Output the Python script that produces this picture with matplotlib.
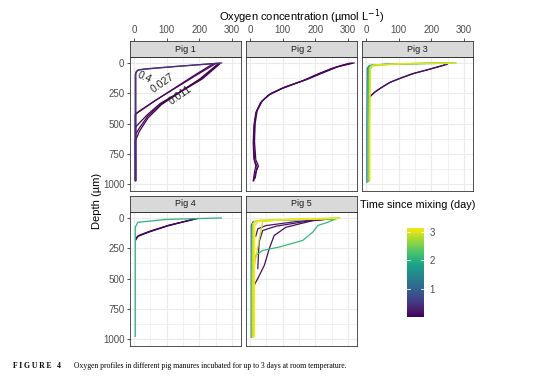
import matplotlib
matplotlib.use("Agg")
import matplotlib.pyplot as plt
import numpy as np
from matplotlib.colors import Normalize

plt.rcParams["font.family"] = ["Liberation Sans", "DejaVu Sans"]

# time since mixing (day) for each profile, and the profile points (conc, depth)
PIG1_TIME = [0.4, 0.4, 0.027, 0.027, 0.011, 0.011, 0.011]
PIG1_CONC = [[268, 150, 60, 14, 6, 4, 4, 5],
             [262, 120, 30, 10, 6, 6, 6],
             [240, 180, 120, 60, 15, 4, 4],
             [250, 185, 125, 65, 20, 5, 5],
             [262, 210, 145, 84, 43, 17, 4, 4],
             [255, 200, 140, 80, 40, 15, 5, 5],
             [258, 205, 142, 82, 42, 16, 5, 5]]
PIG1_DEPTH = [[0, 25, 45, 57, 75, 100, 500, 975],
              [2, 30, 50, 62, 90, 400, 970],
              [10, 110, 215, 320, 400, 428, 970],
              [5, 110, 210, 310, 395, 420, 965],
              [8, 130, 235, 344, 454, 563, 645, 970],
              [12, 135, 240, 335, 430, 500, 530, 965],
              [10, 130, 238, 340, 440, 540, 590, 968]]

PIG2_TIME = [0.05, 0.06, 0.04]
PIG2_CONC = [[312, 290, 262, 210, 171, 100, 60, 35, 20, 14, 12, 14, 22, 18, 12],
             [318, 300, 270, 220, 180, 110, 65, 38, 22, 16, 14, 18, 26, 20, 16],
             [305, 280, 250, 200, 160, 95, 55, 32, 18, 12, 10, 12, 18, 14, 10]]
PIG2_DEPTH = [[0, 15, 36, 90, 139, 207, 260, 320, 400, 500, 650, 800, 860, 900, 970],
              [0, 12, 30, 85, 130, 195, 250, 312, 395, 500, 650, 800, 850, 890, 950],
              [2, 20, 45, 100, 148, 215, 268, 330, 410, 520, 660, 790, 850, 900, 975]]

PIG3_TIME = [0.1, 0.12, 1.3, 2.0, 2.5, 2.8, 3.0]
PIG3_CONC = [[240, 187, 140, 105, 70, 44, 25, 13, 8],
             [248, 195, 150, 112, 75, 50, 28, 16, 9],
             [255, 60, 10, 4, 3, 3],
             [265, 80, 12, 8, 7, 7],
             [275, 100, 18, 10, 9, 9],
             [260, 90, 20, 12, 10, 10],
             [272, 120, 25, 14, 12, 12]]
PIG3_DEPTH = [[16, 57, 90, 126, 165, 208, 245, 276, 295],
              [12, 52, 84, 120, 158, 200, 238, 270, 288],
              [2, 10, 22, 45, 500, 985],
              [0, 8, 20, 40, 500, 980],
              [0, 6, 18, 40, 500, 975],
              [3, 10, 25, 55, 500, 965],
              [0, 5, 16, 38, 500, 970]]

PIG4_TIME = [0.05, 0.06, 0.04, 2.0]
PIG4_CONC = [[186, 104, 43, 12, 7],
             [195, 110, 48, 15, 8],
             [180, 100, 40, 10, 6],
             [267, 100, 12, 4, 4]]
PIG4_DEPTH = [[8, 63, 117, 150, 172],
              [5, 58, 110, 145, 168],
              [12, 68, 122, 155, 180],
              [0, 12, 36, 77, 978]]

PIG5_TIME = [1.2, 2.1, 0.1, 0.15, 0.2, 2.5, 2.8, 2.9, 3.0, 3.1]
PIG5_CONC = [[250, 60, 10, 4, 4],
             [268, 237, 207, 192, 161, 90, 39, 18, 10, 8, 8],
             [260, 192, 110, 74, 59, 44, 24, 13],
             [255, 180, 80, 39, 28, 24],
             [250, 141, 49, 24, 18],
             [260, 90, 15, 8, 6, 6],
             [270, 120, 20, 10, 8, 8],
             [270, 150, 40, 30, 20, 10, 10],
             [275, 150, 30, 12, 10, 10],
             [265, 100, 25, 15, 14, 14]]
PIG5_DEPTH = [[8, 20, 30, 60, 985],
              [2, 36, 63, 117, 186, 240, 268, 309, 400, 600, 980],
              [5, 22, 77, 145, 254, 391, 500, 555],
              [5, 25, 68, 104, 200, 418],
              [5, 30, 63, 90, 150],
              [6, 18, 30, 50, 500, 985],
              [3, 12, 25, 45, 500, 980],
              [2, 10, 25, 150, 300, 450, 980],
              [0, 8, 18, 35, 500, 985],
              [5, 15, 30, 60, 500, 975]]

PIGS = ["Pig 1", "Pig 2", "Pig 3", "Pig 4", "Pig 5"]
X_TICKS = [0, 100, 200, 300]
Y_TICKS = [0, 250, 500, 750, 1000]
CBAR_TICKS = [1, 2, 3]
PIG1_LABELS = ["0.4", "0.027", "0.011"]
PIG1_LABEL_POS = [(33, 115), (86, 170), (142, 265)]
PIG1_LABEL_ROT = [-25, 35, 35]

W, H = 554, 380
fig = plt.figure(figsize=(W / 100, H / 100), dpi=100)
norm = Normalize(0, 3.14)
cmap = matplotlib.colormaps["viridis"]


def px(x, y, w, h):
    return [x / W, 1 - (y + h) / H, w / W, h / H]


lefts = [130, 246, 362, 130, 246]
tops = [57, 57, 57, 212, 212]
pw, ph, sh = 111, 134, 16
data = [(PIG1_TIME, PIG1_CONC, PIG1_DEPTH), (PIG2_TIME, PIG2_CONC, PIG2_DEPTH),
        (PIG3_TIME, PIG3_CONC, PIG3_DEPTH), (PIG4_TIME, PIG4_CONC, PIG4_DEPTH),
        (PIG5_TIME, PIG5_CONC, PIG5_DEPTH)]
xlim = (-12, 327)
ylim = (1057, -49)
tick_col = "#4d4d4d"
for i, (name, (times, concs, depths)) in enumerate(zip(PIGS, data)):
    ax = fig.add_axes(px(lefts[i], tops[i], pw, ph))
    ax.set_xlim(*xlim); ax.set_ylim(*ylim)
    ax.set_xticks(X_TICKS); ax.set_xticks([50, 150, 250], minor=True)
    ax.set_yticks(Y_TICKS); ax.set_yticks([125, 375, 625, 875], minor=True)
    ax.grid(which="major", color="#ebebeb", lw=0.8)
    ax.grid(which="minor", color="#ebebeb", lw=0.5)
    ax.set_axisbelow(True)
    ax.tick_params(which="both", bottom=False, labelbottom=False, top=False)
    ax.tick_params(which="minor", left=False)
    if i in (0, 3):
        ax.tick_params(axis="y", length=2.5, width=0.6, color="#333333",
                       labelsize=7, labelcolor=tick_col, pad=1.5)
    else:
        ax.tick_params(axis="y", left=False, labelleft=False)
    for s in ax.spines.values():
        s.set_color("#333333"); s.set_linewidth(0.6)
    order = np.argsort(times)
    for k in order:
        ax.plot(concs[k], depths[k], color=cmap(norm(times[k])), lw=0.9)
    if i == 0:
        for lab, (lx, ly), rot in zip(PIG1_LABELS, PIG1_LABEL_POS, PIG1_LABEL_ROT):
            ax.text(lx, ly, lab, rotation=rot, fontsize=7.5, color="#262626",
                    ha="center", va="center", rotation_mode="anchor")

    # facet strip
    st = fig.add_axes(px(lefts[i], tops[i] - sh, pw, sh))
    st.set_facecolor("#d9d9d9")
    st.set_xlim(*xlim); st.set_ylim(0, 1)
    st.set_yticks([])
    for s in st.spines.values():
        s.set_color("#333333"); s.set_linewidth(0.6)
    st.text(0.5, 0.5, name, transform=st.transAxes, ha="center", va="center",
            fontsize=6.5, color="#1a1a1a")
    if i < 3:
        st.set_xticks(X_TICKS)
        st.tick_params(axis="x", bottom=False, labelbottom=False, top=True, labeltop=True,
                       length=2.5, width=0.6, color="#333333", labelsize=7,
                       labelcolor=tick_col, pad=1.5)
    else:
        st.set_xticks([])

fig.text(302 / W, 1 - 17 / H, "Oxygen concentration (µmol L$^{-1}$)", ha="center",
         va="center", fontsize=8)
fig.text(97 / W, 1 - 201 / H, "Depth (µm)", rotation=90, ha="center", va="center",
         fontsize=8)

# colour bar legend
cax = fig.add_axes(px(407, 228, 17, 89))
grad = np.linspace(0, 3.14, 256).reshape(-1, 1)
cax.imshow(grad, aspect="auto", cmap=cmap, norm=norm, origin="lower",
           extent=(0, 1, 0, 3.14))
cax.set_xlim(0, 1); cax.set_ylim(0, 3.14)
cax.set_xticks([])
cax.set_yticks(CBAR_TICKS)
cax.yaxis.tick_right()
cax.tick_params(axis="y", length=0, labelsize=7, labelcolor=tick_col, pad=4)
for s in cax.spines.values():
    s.set_visible(False)
for t in CBAR_TICKS:
    cax.plot([0, 0.2], [t, t], color="white", lw=0.6)
    cax.plot([0.8, 1], [t, t], color="white", lw=0.6)
fig.text(360 / W, 1 - 205 / H, "Time since mixing (day)", ha="left", va="center",
         fontsize=7.8)

# caption
fig.text(13 / W, 1 - 366 / H, "F I G U R E   4", ha="left", va="center", fontsize=5.5,
         fontweight="bold", family="Liberation Serif")
fig.text(74 / W, 1 - 366 / H,
         "Oxygen profiles in different pig manures incubated for up to 3 days at room temperature.",
         ha="left", va="center", fontsize=5.5, family="Liberation Serif")

fig.savefig("out.png", dpi=100)
